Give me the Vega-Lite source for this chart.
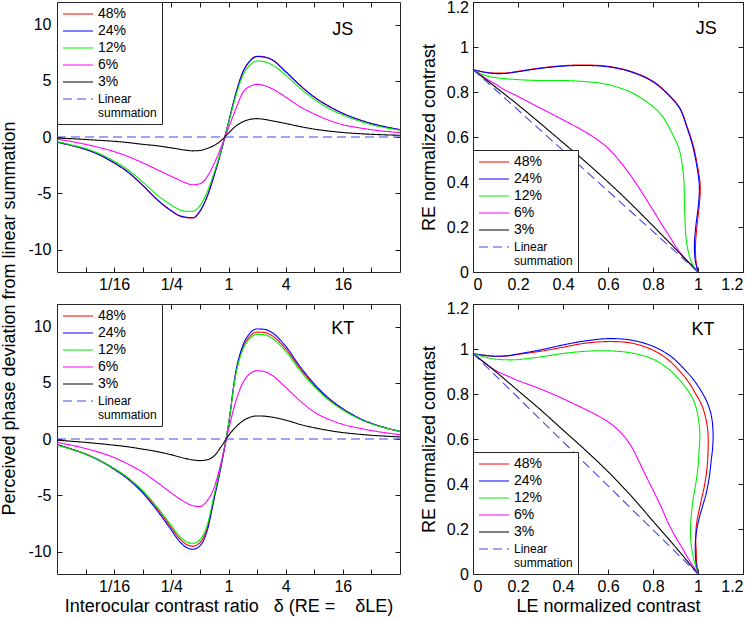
{
"$schema": "https://vega.github.io/schema/vega-lite/v6.json",
"padding": {"left": -1, "top": -2, "right": 0, "bottom": 0},
"autosize": {"type": "pad"},
"config": {
  "font": "Liberation Sans",
  "view": {"stroke": "#262626", "strokeWidth": 1},
  "axis": {"grid": false, "domain": false, "ticks": true, "tickSize": 5, "offset": -5, "tickColor": "#1a1a1a", "tickWidth": 1, "labelFontSize": 16, "labelColor": "#000", "labelFont": "Liberation Sans", "titleFont": "Liberation Sans", "titleFontSize": 18, "titleFontWeight": "normal", "titleColor": "#000"},
  "text": {"font": "Liberation Sans", "color": "#000"}
},
"datasets": {
"lJS": [
{"r":0.015625,"48%":-0.45,"24%":-0.45,"12%":-0.4,"6%":-0.2,"3%":-0.1,"Linear summation":0},
{"r":0.0220971,"48%":-0.75,"24%":-0.75,"12%":-0.7,"6%":-0.4,"3%":-0.15,"Linear summation":0},
{"r":0.03125,"48%":-1.1,"24%":-1.1,"12%":-1.02,"6%":-0.65,"3%":-0.22,"Linear summation":0},
{"r":0.0441942,"48%":-1.6,"24%":-1.6,"12%":-1.5,"6%":-0.95,"3%":-0.3,"Linear summation":0},
{"r":0.0625,"48%":-2.3,"24%":-2.3,"12%":-2.15,"6%":-1.3,"3%":-0.38,"Linear summation":0},
{"r":0.0883883,"48%":-3.15,"24%":-3.15,"12%":-2.95,"6%":-1.75,"3%":-0.5,"Linear summation":0},
{"r":0.125,"48%":-4.3,"24%":-4.3,"12%":-4.0,"6%":-2.3,"3%":-0.65,"Linear summation":0},
{"r":0.1767767,"48%":-5.57,"24%":-5.55,"12%":-5.15,"6%":-2.9,"3%":-0.78,"Linear summation":0},
{"r":0.25,"48%":-6.58,"24%":-6.55,"12%":-6.05,"6%":-3.5,"3%":-0.97,"Linear summation":0},
{"r":0.2973018,"48%":-6.98,"24%":-6.95,"12%":-6.42,"6%":-3.8,"3%":-1.07,"Linear summation":0},
{"r":0.3535534,"48%":-7.16,"24%":-7.12,"12%":-6.6,"6%":-4.08,"3%":-1.17,"Linear summation":0},
{"r":0.4204482,"48%":-7.2,"24%":-7.18,"12%":-6.6,"6%":-4.25,"3%":-1.23,"Linear summation":0},
{"r":0.5,"48%":-6.6,"24%":-6.6,"12%":-6.1,"6%":-4.15,"3%":-1.2,"Linear summation":0},
{"r":0.5946036,"48%":-5.3,"24%":-5.3,"12%":-4.9,"6%":-3.55,"3%":-1.02,"Linear summation":0},
{"r":0.7071068,"48%":-3.4,"24%":-3.4,"12%":-3.15,"6%":-2.35,"3%":-0.75,"Linear summation":0},
{"r":0.8408964,"48%":-1.2,"24%":-1.2,"12%":-1.1,"6%":-0.85,"3%":-0.3,"Linear summation":0},
{"r":1,"48%":1.3,"24%":1.3,"12%":1.2,"6%":0.8,"3%":0.35,"Linear summation":0},
{"r":1.1892071,"48%":3.8,"24%":3.8,"12%":3.6,"6%":2.45,"3%":0.95,"Linear summation":0},
{"r":1.4142136,"48%":5.75,"24%":5.75,"12%":5.45,"6%":3.95,"3%":1.35,"Linear summation":0},
{"r":1.6817928,"48%":6.77,"24%":6.75,"12%":6.4,"6%":4.5,"3%":1.57,"Linear summation":0},
{"r":2,"48%":7.18,"24%":7.15,"12%":6.75,"6%":4.68,"3%":1.63,"Linear summation":0},
{"r":2.3784142,"48%":7.12,"24%":7.1,"12%":6.7,"6%":4.58,"3%":1.57,"Linear summation":0},
{"r":2.8284271,"48%":6.9,"24%":6.9,"12%":6.45,"6%":4.32,"3%":1.45,"Linear summation":0},
{"r":4,"48%":5.82,"24%":5.8,"12%":5.5,"6%":3.55,"3%":1.2,"Linear summation":0},
{"r":5.6568542,"48%":4.6,"24%":4.6,"12%":4.35,"6%":2.7,"3%":0.93,"Linear summation":0},
{"r":8,"48%":3.55,"24%":3.55,"12%":3.35,"6%":2.05,"3%":0.7,"Linear summation":0},
{"r":11.3137085,"48%":2.75,"24%":2.75,"12%":2.55,"6%":1.5,"3%":0.53,"Linear summation":0},
{"r":16,"48%":2.1,"24%":2.1,"12%":1.95,"6%":1.1,"3%":0.4,"Linear summation":0},
{"r":22.627417,"48%":1.6,"24%":1.6,"12%":1.48,"6%":0.85,"3%":0.31,"Linear summation":0},
{"r":32,"48%":1.2,"24%":1.2,"12%":1.1,"6%":0.65,"3%":0.24,"Linear summation":0},
{"r":45.254834,"48%":0.9,"24%":0.9,"12%":0.82,"6%":0.5,"3%":0.19,"Linear summation":0},
{"r":64,"48%":0.65,"24%":0.65,"12%":0.6,"6%":0.4,"3%":0.15,"Linear summation":0}
],
"lKT": [
{"r":0.015625,"48%":-0.5,"24%":-0.5,"12%":-0.55,"6%":-0.3,"3%":-0.1,"Linear summation":0},
{"r":0.0220971,"48%":-0.88,"24%":-0.9,"12%":-0.92,"6%":-0.55,"3%":-0.2,"Linear summation":0},
{"r":0.03125,"48%":-1.32,"24%":-1.35,"12%":-1.35,"6%":-0.85,"3%":-0.3,"Linear summation":0},
{"r":0.0441942,"48%":-1.9,"24%":-1.95,"12%":-1.92,"6%":-1.2,"3%":-0.42,"Linear summation":0},
{"r":0.0625,"48%":-2.63,"24%":-2.7,"12%":-2.62,"6%":-1.65,"3%":-0.55,"Linear summation":0},
{"r":0.0883883,"48%":-3.5,"24%":-3.6,"12%":-3.48,"6%":-2.25,"3%":-0.7,"Linear summation":0},
{"r":0.125,"48%":-4.67,"24%":-4.8,"12%":-4.6,"6%":-2.95,"3%":-0.9,"Linear summation":0},
{"r":0.1767767,"48%":-6.18,"24%":-6.35,"12%":-6.05,"6%":-3.85,"3%":-1.12,"Linear summation":0},
{"r":0.25,"48%":-7.88,"24%":-8.1,"12%":-7.7,"6%":-4.8,"3%":-1.4,"Linear summation":0},
{"r":0.2973018,"48%":-8.75,"24%":-9.0,"12%":-8.55,"6%":-5.25,"3%":-1.57,"Linear summation":0},
{"r":0.3535534,"48%":-9.33,"24%":-9.6,"12%":-9.1,"6%":-5.65,"3%":-1.73,"Linear summation":0},
{"r":0.4204482,"48%":-9.52,"24%":-9.8,"12%":-9.27,"6%":-5.93,"3%":-1.86,"Linear summation":0},
{"r":0.5,"48%":-9.22,"24%":-9.5,"12%":-8.95,"6%":-6.0,"3%":-1.92,"Linear summation":0},
{"r":0.5946036,"48%":-7.95,"24%":-8.2,"12%":-7.7,"6%":-5.5,"3%":-1.85,"Linear summation":0},
{"r":0.7071068,"48%":-5.15,"24%":-5.3,"12%":-4.95,"6%":-4.3,"3%":-1.5,"Linear summation":0},
{"r":0.8408964,"48%":-2.25,"24%":-2.3,"12%":-2.1,"6%":-2.0,"3%":-0.65,"Linear summation":0},
{"r":1,"48%":1.25,"24%":1.3,"12%":1.3,"6%":0.8,"3%":0.3,"Linear summation":0},
{"r":1.1892071,"48%":5.75,"24%":5.9,"12%":5.65,"6%":3.3,"3%":1.05,"Linear summation":0},
{"r":1.4142136,"48%":8.08,"24%":8.3,"12%":7.95,"6%":5.0,"3%":1.6,"Linear summation":0},
{"r":1.6817928,"48%":9.13,"24%":9.4,"12%":8.95,"6%":5.8,"3%":1.93,"Linear summation":0},
{"r":2,"48%":9.5,"24%":9.78,"12%":9.3,"6%":6.07,"3%":2.05,"Linear summation":0},
{"r":2.3784142,"48%":9.47,"24%":9.75,"12%":9.27,"6%":6.0,"3%":2.03,"Linear summation":0},
{"r":2.8284271,"48%":9.22,"24%":9.5,"12%":9.0,"6%":5.7,"3%":1.95,"Linear summation":0},
{"r":4,"48%":8.02,"24%":8.25,"12%":7.8,"6%":4.6,"3%":1.68,"Linear summation":0},
{"r":5.6568542,"48%":6.28,"24%":6.45,"12%":6.1,"6%":3.4,"3%":1.3,"Linear summation":0},
{"r":8,"48%":4.78,"24%":4.9,"12%":4.65,"6%":2.4,"3%":1.0,"Linear summation":0},
{"r":11.3137085,"48%":3.56,"24%":3.65,"12%":3.47,"6%":1.75,"3%":0.76,"Linear summation":0},
{"r":16,"48%":2.64,"24%":2.7,"12%":2.58,"6%":1.3,"3%":0.57,"Linear summation":0},
{"r":22.627417,"48%":1.91,"24%":1.95,"12%":1.88,"6%":1.0,"3%":0.44,"Linear summation":0},
{"r":32,"48%":1.37,"24%":1.4,"12%":1.35,"6%":0.75,"3%":0.33,"Linear summation":0},
{"r":45.254834,"48%":0.98,"24%":1.0,"12%":0.97,"6%":0.55,"3%":0.25,"Linear summation":0},
{"r":64,"48%":0.67,"24%":0.68,"12%":0.67,"6%":0.38,"3%":0.18,"Linear summation":0}
],
"rJS": [
{"s":"48%","i":0,"x":0,"y":0.9},{"s":"48%","i":1,"x":0.05,"y":0.889},{"s":"48%","i":2,"x":0.1,"y":0.884},{"s":"48%","i":3,"x":0.15,"y":0.885},{"s":"48%","i":4,"x":0.2,"y":0.892},{"s":"48%","i":5,"x":0.3,"y":0.907},{"s":"48%","i":6,"x":0.4,"y":0.917},{"s":"48%","i":7,"x":0.5,"y":0.92},{"s":"48%","i":8,"x":0.6,"y":0.914},{"s":"48%","i":9,"x":0.7,"y":0.892},{"s":"48%","i":10,"x":0.8,"y":0.848},{"s":"48%","i":11,"x":0.88,"y":0.778},{"s":"48%","i":12,"x":0.92,"y":0.728},{"s":"48%","i":13,"x":0.952,"y":0.645},{"s":"48%","i":14,"x":0.978,"y":0.565},{"s":"48%","i":15,"x":0.998,"y":0.47},{"s":"48%","i":16,"x":1.01,"y":0.38},{"s":"48%","i":17,"x":1.006,"y":0.3},{"s":"48%","i":18,"x":0.995,"y":0.2},{"s":"48%","i":19,"x":0.989,"y":0.12},{"s":"48%","i":20,"x":0.991,"y":0.05},{"s":"48%","i":21,"x":1,"y":0},
{"s":"24%","i":0,"x":0,"y":0.9},{"s":"24%","i":1,"x":0.05,"y":0.888},{"s":"24%","i":2,"x":0.1,"y":0.882},{"s":"24%","i":3,"x":0.15,"y":0.883},{"s":"24%","i":4,"x":0.2,"y":0.89},{"s":"24%","i":5,"x":0.3,"y":0.905},{"s":"24%","i":6,"x":0.4,"y":0.915},{"s":"24%","i":7,"x":0.5,"y":0.918},{"s":"24%","i":8,"x":0.6,"y":0.912},{"s":"24%","i":9,"x":0.7,"y":0.89},{"s":"24%","i":10,"x":0.8,"y":0.845},{"s":"24%","i":11,"x":0.88,"y":0.775},{"s":"24%","i":12,"x":0.92,"y":0.725},{"s":"24%","i":13,"x":0.95,"y":0.645},{"s":"24%","i":14,"x":0.975,"y":0.565},{"s":"24%","i":15,"x":0.995,"y":0.47},{"s":"24%","i":16,"x":1.006,"y":0.38},{"s":"24%","i":17,"x":1.002,"y":0.3},{"s":"24%","i":18,"x":0.99,"y":0.2},{"s":"24%","i":19,"x":0.984,"y":0.12},{"s":"24%","i":20,"x":0.988,"y":0.05},{"s":"24%","i":21,"x":1,"y":0},
{"s":"12%","i":0,"x":0,"y":0.9},{"s":"12%","i":1,"x":0.05,"y":0.875},{"s":"12%","i":2,"x":0.1,"y":0.864},{"s":"12%","i":3,"x":0.2,"y":0.855},{"s":"12%","i":4,"x":0.3,"y":0.851},{"s":"12%","i":5,"x":0.4,"y":0.851},{"s":"12%","i":6,"x":0.5,"y":0.846},{"s":"12%","i":7,"x":0.6,"y":0.833},{"s":"12%","i":8,"x":0.7,"y":0.8},{"s":"12%","i":9,"x":0.76,"y":0.765},{"s":"12%","i":10,"x":0.8,"y":0.735},{"s":"12%","i":11,"x":0.84,"y":0.695},{"s":"12%","i":12,"x":0.87,"y":0.645},{"s":"12%","i":13,"x":0.9,"y":0.585},{"s":"12%","i":14,"x":0.918,"y":0.54},{"s":"12%","i":15,"x":0.932,"y":0.46},{"s":"12%","i":16,"x":0.938,"y":0.39},{"s":"12%","i":17,"x":0.94,"y":0.3},{"s":"12%","i":18,"x":0.942,"y":0.24},{"s":"12%","i":19,"x":0.948,"y":0.14},{"s":"12%","i":20,"x":0.963,"y":0.067},{"s":"12%","i":21,"x":0.98,"y":0.025},{"s":"12%","i":22,"x":1,"y":0},
{"s":"6%","i":0,"x":0,"y":0.9},{"s":"6%","i":1,"x":0.05,"y":0.865},{"s":"6%","i":2,"x":0.1,"y":0.835},{"s":"6%","i":3,"x":0.14,"y":0.81},{"s":"6%","i":4,"x":0.2,"y":0.78},{"s":"6%","i":5,"x":0.29,"y":0.733},{"s":"6%","i":6,"x":0.37,"y":0.692},{"s":"6%","i":7,"x":0.44,"y":0.655},{"s":"6%","i":8,"x":0.5,"y":0.622},{"s":"6%","i":9,"x":0.55,"y":0.59},{"s":"6%","i":10,"x":0.6,"y":0.55},{"s":"6%","i":11,"x":0.65,"y":0.495},{"s":"6%","i":12,"x":0.7,"y":0.43},{"s":"6%","i":13,"x":0.75,"y":0.355},{"s":"6%","i":14,"x":0.8,"y":0.275},{"s":"6%","i":15,"x":0.84,"y":0.21},{"s":"6%","i":16,"x":0.88,"y":0.148},{"s":"6%","i":17,"x":0.91,"y":0.1},{"s":"6%","i":18,"x":0.95,"y":0.052},{"s":"6%","i":19,"x":1,"y":0},
{"s":"3%","i":0,"x":0,"y":0.9},{"s":"3%","i":1,"x":0.1,"y":0.822},{"s":"3%","i":2,"x":0.2,"y":0.743},{"s":"3%","i":3,"x":0.3,"y":0.66},{"s":"3%","i":4,"x":0.4,"y":0.575},{"s":"3%","i":5,"x":0.5,"y":0.49},{"s":"3%","i":6,"x":0.6,"y":0.4},{"s":"3%","i":7,"x":0.7,"y":0.305},{"s":"3%","i":8,"x":0.8,"y":0.205},{"s":"3%","i":9,"x":0.9,"y":0.103},{"s":"3%","i":10,"x":1,"y":0},
{"s":"Linear summation","i":0,"x":0,"y":0.9},{"s":"Linear summation","i":1,"x":1,"y":0}
],
"rKT": [
{"s":"48%","i":0,"x":0,"y":0.98},{"s":"48%","i":1,"x":0.05,"y":0.972},{"s":"48%","i":2,"x":0.1,"y":0.968},{"s":"48%","i":3,"x":0.15,"y":0.969},{"s":"48%","i":4,"x":0.2,"y":0.976},{"s":"48%","i":5,"x":0.3,"y":0.99},{"s":"48%","i":6,"x":0.4,"y":1.008},{"s":"48%","i":7,"x":0.5,"y":1.026},{"s":"48%","i":8,"x":0.6,"y":1.033},{"s":"48%","i":9,"x":0.7,"y":1.027},{"s":"48%","i":10,"x":0.8,"y":0.995},{"s":"48%","i":11,"x":0.87,"y":0.95},{"s":"48%","i":12,"x":0.92,"y":0.9},{"s":"48%","i":13,"x":0.96,"y":0.85},{"s":"48%","i":14,"x":0.99,"y":0.8},{"s":"48%","i":15,"x":1.017,"y":0.75},{"s":"48%","i":16,"x":1.035,"y":0.69},{"s":"48%","i":17,"x":1.044,"y":0.63},{"s":"48%","i":18,"x":1.045,"y":0.56},{"s":"48%","i":19,"x":1.041,"y":0.48},{"s":"48%","i":20,"x":1.03,"y":0.4},{"s":"48%","i":21,"x":1.015,"y":0.33},{"s":"48%","i":22,"x":1.0,"y":0.26},{"s":"48%","i":23,"x":0.992,"y":0.21},{"s":"48%","i":24,"x":0.99,"y":0.15},{"s":"48%","i":25,"x":0.992,"y":0.107},{"s":"48%","i":26,"x":0.994,"y":0.05},{"s":"48%","i":27,"x":1,"y":0},
{"s":"24%","i":0,"x":0,"y":0.98},{"s":"24%","i":1,"x":0.05,"y":0.972},{"s":"24%","i":2,"x":0.1,"y":0.968},{"s":"24%","i":3,"x":0.15,"y":0.97},{"s":"24%","i":4,"x":0.2,"y":0.978},{"s":"24%","i":5,"x":0.3,"y":0.996},{"s":"24%","i":6,"x":0.4,"y":1.018},{"s":"24%","i":7,"x":0.5,"y":1.036},{"s":"24%","i":8,"x":0.6,"y":1.046},{"s":"24%","i":9,"x":0.7,"y":1.04},{"s":"24%","i":10,"x":0.8,"y":1.012},{"s":"24%","i":11,"x":0.88,"y":0.967},{"s":"24%","i":12,"x":0.93,"y":0.92},{"s":"24%","i":13,"x":0.975,"y":0.87},{"s":"24%","i":14,"x":1.01,"y":0.82},{"s":"24%","i":15,"x":1.042,"y":0.76},{"s":"24%","i":16,"x":1.06,"y":0.7},{"s":"24%","i":17,"x":1.067,"y":0.626},{"s":"24%","i":18,"x":1.065,"y":0.56},{"s":"24%","i":19,"x":1.059,"y":0.507},{"s":"24%","i":20,"x":1.05,"y":0.43},{"s":"24%","i":21,"x":1.037,"y":0.36},{"s":"24%","i":22,"x":1.02,"y":0.3},{"s":"24%","i":23,"x":1.007,"y":0.255},{"s":"24%","i":24,"x":0.995,"y":0.2},{"s":"24%","i":25,"x":0.989,"y":0.15},{"s":"24%","i":26,"x":0.988,"y":0.1},{"s":"24%","i":27,"x":0.991,"y":0.05},{"s":"24%","i":28,"x":1,"y":0},
{"s":"12%","i":0,"x":0,"y":0.98},{"s":"12%","i":1,"x":0.05,"y":0.965},{"s":"12%","i":2,"x":0.1,"y":0.955},{"s":"12%","i":3,"x":0.15,"y":0.952},{"s":"12%","i":4,"x":0.2,"y":0.953},{"s":"12%","i":5,"x":0.3,"y":0.965},{"s":"12%","i":6,"x":0.4,"y":0.98},{"s":"12%","i":7,"x":0.5,"y":0.99},{"s":"12%","i":8,"x":0.6,"y":0.992},{"s":"12%","i":9,"x":0.7,"y":0.983},{"s":"12%","i":10,"x":0.8,"y":0.955},{"s":"12%","i":11,"x":0.87,"y":0.91},{"s":"12%","i":12,"x":0.92,"y":0.86},{"s":"12%","i":13,"x":0.955,"y":0.815},{"s":"12%","i":14,"x":0.985,"y":0.76},{"s":"12%","i":15,"x":1.0,"y":0.7},{"s":"12%","i":16,"x":1.008,"y":0.626},{"s":"12%","i":17,"x":1.005,"y":0.55},{"s":"12%","i":18,"x":1.0,"y":0.478},{"s":"12%","i":19,"x":0.99,"y":0.4},{"s":"12%","i":20,"x":0.978,"y":0.33},{"s":"12%","i":21,"x":0.97,"y":0.26},{"s":"12%","i":22,"x":0.967,"y":0.21},{"s":"12%","i":23,"x":0.968,"y":0.15},{"s":"12%","i":24,"x":0.973,"y":0.107},{"s":"12%","i":25,"x":0.985,"y":0.05},{"s":"12%","i":26,"x":1,"y":0},
{"s":"6%","i":0,"x":0,"y":0.98},{"s":"6%","i":1,"x":0.05,"y":0.94},{"s":"6%","i":2,"x":0.1,"y":0.905},{"s":"6%","i":3,"x":0.14,"y":0.886},{"s":"6%","i":4,"x":0.2,"y":0.86},{"s":"6%","i":5,"x":0.29,"y":0.826},{"s":"6%","i":6,"x":0.37,"y":0.793},{"s":"6%","i":7,"x":0.44,"y":0.76},{"s":"6%","i":8,"x":0.51,"y":0.727},{"s":"6%","i":9,"x":0.57,"y":0.695},{"s":"6%","i":10,"x":0.62,"y":0.662},{"s":"6%","i":11,"x":0.66,"y":0.625},{"s":"6%","i":12,"x":0.7,"y":0.573},{"s":"6%","i":13,"x":0.733,"y":0.51},{"s":"6%","i":14,"x":0.77,"y":0.433},{"s":"6%","i":15,"x":0.807,"y":0.359},{"s":"6%","i":16,"x":0.84,"y":0.29},{"s":"6%","i":17,"x":0.867,"y":0.228},{"s":"6%","i":18,"x":0.9,"y":0.165},{"s":"6%","i":19,"x":0.926,"y":0.122},{"s":"6%","i":20,"x":0.95,"y":0.08},{"s":"6%","i":21,"x":0.97,"y":0.048},{"s":"6%","i":22,"x":1,"y":0},
{"s":"3%","i":0,"x":0,"y":0.98},{"s":"3%","i":1,"x":0.1,"y":0.9},{"s":"3%","i":2,"x":0.2,"y":0.815},{"s":"3%","i":3,"x":0.3,"y":0.73},{"s":"3%","i":4,"x":0.4,"y":0.64},{"s":"3%","i":5,"x":0.5,"y":0.55},{"s":"3%","i":6,"x":0.6,"y":0.455},{"s":"3%","i":7,"x":0.7,"y":0.35},{"s":"3%","i":8,"x":0.8,"y":0.235},{"s":"3%","i":9,"x":0.9,"y":0.12},{"s":"3%","i":10,"x":1,"y":0},
{"s":"Linear summation","i":0,"x":0,"y":0.98},{"s":"Linear summation","i":1,"x":1,"y":0}
]
},
"columns": 2,
"spacing": {"row": 32, "column": 73},
"bounds": "flush",
"resolve": {"scale": {"color": "independent", "strokeDash": "independent"}, "legend": {"color": "independent", "strokeDash": "independent"}},
"concat": [
{
 "width": 343, "height": 270,
 "layer": [
  {
   "data": {"name": "lJS"},
   "transform": [{"fold": ["48%","24%","12%","6%","3%","Linear summation"], "as": ["series","v"]}],
   "mark": {"type": "line", "interpolate": "monotone", "strokeWidth": 1.1},
   "encoding": {
    "x": {"field": "r", "type": "quantitative", "scale": {"type": "log", "base": 2, "domain": [0.015625, 64], "nice": false}, "axis": {"values": [0.03125,0.0625,0.125,0.25,0.5,1,2,4,8,16,32], "labelExpr": "datum.value == 0.0625 ? '1/16' : datum.value == 0.25 ? '1/4' : datum.value == 1 ? '1' : datum.value == 4 ? '4' : datum.value == 16 ? '16' : ''", "labelPadding": 4, "title": null}},
    "y": {"field": "v", "type": "quantitative", "scale": {"domain": [-12, 12], "nice": false, "zero": false}, "axis": {"values": [-10,-5,0,5,10], "labelExpr": "replace(datum.label, '\u2212', '-')", "labelPadding": 6, "title": "Perceived phase deviation from linear summation", "titleX": -44, "titleY": 316}},
    "color": {"field": "series", "type": "nominal", "scale": {"domain": ["48%","24%","12%","6%","3%","Linear summation"], "range": ["#ff0000","#0000ff","#00f000","#ff00ff","#000000","#4646e6"]},
      "legend": {"title": null, "orient": "top-left", "offset": 0, "fillColor": "white", "strokeColor": "#262626", "padding": 5, "symbolType": "M-1,0H4", "symbolSize": 144, "symbolStrokeWidth": 1.2, "labelFontSize": 14, "labelOffset": 22, "rowPadding": 3, "labelExpr": "datum.value == 'Linear summation' ? ['Linear', 'summation'] : datum.label", "encode": {"labels": {"update": {"fontSize": {"signal": "datum.value == 'Linear summation' ? 12 : 14"}}}}}},
    "strokeDash": {"field": "series", "type": "nominal", "scale": {"domain": ["48%","24%","12%","6%","3%","Linear summation"], "range": [[1,0],[1,0],[1,0],[1,0],[1,0],[9,5]]},
      "legend": {"title": null, "orient": "top-left", "offset": 0, "fillColor": "white", "strokeColor": "#262626", "padding": 5, "symbolType": "M-1,0H4", "symbolSize": 144, "symbolStrokeWidth": 1.2, "labelFontSize": 14, "labelOffset": 22, "rowPadding": 3, "labelExpr": "datum.value == 'Linear summation' ? ['Linear', 'summation'] : datum.label", "encode": {"labels": {"update": {"fontSize": {"signal": "datum.value == 'Linear summation' ? 12 : 14"}}}}}}
   }
  },
  {
   "data": {"values": [{}]},
   "mark": {"type": "text", "text": "JS", "fontSize": 18},
   "encoding": {
    "x": {"datum": 16, "type": "quantitative", "axis": {"orient": "top", "values": [0.03125,0.0625,0.125,0.25,0.5,1,2,4,8,16,32], "labels": false, "title": null}},
    "y": {"datum": 9.5, "type": "quantitative", "axis": {"orient": "right", "values": [-10,-5,0,5,10], "labels": false, "title": null}}
   }
  }
 ],
 "resolve": {"axis": {"x": "independent", "y": "independent"}}
},
{
 "width": 270, "height": 270,
 "layer": [
  {
   "data": {"name": "rJS"},
   "mark": {"type": "line", "interpolate": "catmull-rom", "strokeWidth": 1.1},
   "encoding": {
    "x": {"field": "x", "type": "quantitative", "scale": {"domain": [0, 1.2], "nice": false}, "axis": {"values": [0,0.2,0.4,0.6,0.8,1,1.2], "format": "~g", "labelPadding": 4, "title": null}},
    "y": {"field": "y", "type": "quantitative", "scale": {"domain": [0, 1.2], "nice": false}, "axis": {"values": [0,0.2,0.4,0.6,0.8,1,1.2], "format": "~g", "labelPadding": 4.5, "labelOffset": {"condition": {"test": "datum.value == 1.2", "value": 5}, "value": 0}, "title": "RE normalized contrast", "titlePadding": 8}},
    "order": {"field": "i", "type": "quantitative"},
    "color": {"field": "s", "type": "nominal", "scale": {"domain": ["48%","24%","12%","6%","3%","Linear summation"], "range": ["#ff0000","#0000ff","#00f000","#ff00ff","#000000","#4646e6"]},
      "legend": {"title": null, "orient": "bottom-left", "offset": 0, "fillColor": "white", "strokeColor": "#262626", "padding": 5, "symbolType": "M-1,0H4", "symbolSize": 144, "symbolStrokeWidth": 1.2, "labelFontSize": 14, "labelOffset": 22, "rowPadding": 3, "labelExpr": "datum.value == 'Linear summation' ? ['Linear', 'summation'] : datum.label", "encode": {"labels": {"update": {"fontSize": {"signal": "datum.value == 'Linear summation' ? 12 : 14"}}}}}},
    "strokeDash": {"field": "s", "type": "nominal", "scale": {"domain": ["48%","24%","12%","6%","3%","Linear summation"], "range": [[1,0],[1,0],[1,0],[1,0],[1,0],[9,5]]},
      "legend": {"title": null, "orient": "bottom-left", "offset": 0, "fillColor": "white", "strokeColor": "#262626", "padding": 5, "symbolType": "M-1,0H4", "symbolSize": 144, "symbolStrokeWidth": 1.2, "labelFontSize": 14, "labelOffset": 22, "rowPadding": 3, "labelExpr": "datum.value == 'Linear summation' ? ['Linear', 'summation'] : datum.label", "encode": {"labels": {"update": {"fontSize": {"signal": "datum.value == 'Linear summation' ? 12 : 14"}}}}}}
   }
  },
  {
   "data": {"values": [{}]},
   "mark": {"type": "text", "text": "JS", "fontSize": 18},
   "encoding": {
    "x": {"datum": 1.037, "type": "quantitative", "axis": {"orient": "top", "values": [0,0.2,0.4,0.6,0.8,1,1.2], "labels": false, "title": null}},
    "y": {"datum": 1.082, "type": "quantitative", "axis": {"orient": "right", "values": [0,0.2,0.4,0.6,0.8,1,1.2], "labels": false, "title": null}}
   }
  }
 ],
 "resolve": {"axis": {"x": "independent", "y": "independent"}}
},
{
 "width": 343, "height": 270,
 "layer": [
  {
   "data": {"name": "lKT"},
   "transform": [{"fold": ["48%","24%","12%","6%","3%","Linear summation"], "as": ["series","v"]}],
   "mark": {"type": "line", "interpolate": "monotone", "strokeWidth": 1.1},
   "encoding": {
    "x": {"field": "r", "type": "quantitative", "scale": {"type": "log", "base": 2, "domain": [0.015625, 64], "nice": false}, "axis": {"values": [0.03125,0.0625,0.125,0.25,0.5,1,2,4,8,16,32], "labelExpr": "datum.value == 0.0625 ? '1/16' : datum.value == 0.25 ? '1/4' : datum.value == 1 ? '1' : datum.value == 4 ? '4' : datum.value == 16 ? '16' : ''", "labelPadding": 4, "title": "Interocular contrast ratio\u00a0\u00a0 δ (RE =\u00a0\u00a0\u00a0 δLE)", "titlePadding": 3}},
    "y": {"field": "v", "type": "quantitative", "scale": {"domain": [-12, 12], "nice": false, "zero": false}, "axis": {"values": [-10,-5,0,5,10], "labelExpr": "replace(datum.label, '\u2212', '-')", "labelPadding": 6, "title": null}},
    "color": {"field": "series", "type": "nominal", "scale": {"domain": ["48%","24%","12%","6%","3%","Linear summation"], "range": ["#ff0000","#0000ff","#00f000","#ff00ff","#000000","#4646e6"]},
      "legend": {"title": null, "orient": "top-left", "offset": 0, "fillColor": "white", "strokeColor": "#262626", "padding": 5, "symbolType": "M-1,0H4", "symbolSize": 144, "symbolStrokeWidth": 1.2, "labelFontSize": 14, "labelOffset": 22, "rowPadding": 3, "labelExpr": "datum.value == 'Linear summation' ? ['Linear', 'summation'] : datum.label", "encode": {"labels": {"update": {"fontSize": {"signal": "datum.value == 'Linear summation' ? 12 : 14"}}}}}},
    "strokeDash": {"field": "series", "type": "nominal", "scale": {"domain": ["48%","24%","12%","6%","3%","Linear summation"], "range": [[1,0],[1,0],[1,0],[1,0],[1,0],[9,5]]},
      "legend": {"title": null, "orient": "top-left", "offset": 0, "fillColor": "white", "strokeColor": "#262626", "padding": 5, "symbolType": "M-1,0H4", "symbolSize": 144, "symbolStrokeWidth": 1.2, "labelFontSize": 14, "labelOffset": 22, "rowPadding": 3, "labelExpr": "datum.value == 'Linear summation' ? ['Linear', 'summation'] : datum.label", "encode": {"labels": {"update": {"fontSize": {"signal": "datum.value == 'Linear summation' ? 12 : 14"}}}}}}
   }
  },
  {
   "data": {"values": [{}]},
   "mark": {"type": "text", "text": "KT", "fontSize": 18},
   "encoding": {
    "x": {"datum": 16, "type": "quantitative", "axis": {"orient": "top", "values": [0.03125,0.0625,0.125,0.25,0.5,1,2,4,8,16,32], "labels": false, "title": null}},
    "y": {"datum": 9.8, "type": "quantitative", "axis": {"orient": "right", "values": [-10,-5,0,5,10], "labels": false, "title": null}}
   }
  }
 ],
 "resolve": {"axis": {"x": "independent", "y": "independent"}}
},
{
 "width": 270, "height": 270,
 "layer": [
  {
   "data": {"name": "rKT"},
   "mark": {"type": "line", "interpolate": "catmull-rom", "strokeWidth": 1.1},
   "encoding": {
    "x": {"field": "x", "type": "quantitative", "scale": {"domain": [0, 1.2], "nice": false}, "axis": {"values": [0,0.2,0.4,0.6,0.8,1,1.2], "format": "~g", "labelPadding": 4, "title": "LE normalized contrast", "titlePadding": 3}},
    "y": {"field": "y", "type": "quantitative", "scale": {"domain": [0, 1.2], "nice": false}, "axis": {"values": [0,0.2,0.4,0.6,0.8,1,1.2], "format": "~g", "labelPadding": 4.5, "labelOffset": {"condition": {"test": "datum.value == 1.2", "value": 4}, "value": 0}, "title": "RE normalized contrast", "titlePadding": 8}},
    "order": {"field": "i", "type": "quantitative"},
    "color": {"field": "s", "type": "nominal", "scale": {"domain": ["48%","24%","12%","6%","3%","Linear summation"], "range": ["#ff0000","#0000ff","#00f000","#ff00ff","#000000","#4646e6"]},
      "legend": {"title": null, "orient": "bottom-left", "offset": 0, "fillColor": "white", "strokeColor": "#262626", "padding": 5, "symbolType": "M-1,0H4", "symbolSize": 144, "symbolStrokeWidth": 1.2, "labelFontSize": 14, "labelOffset": 22, "rowPadding": 3, "labelExpr": "datum.value == 'Linear summation' ? ['Linear', 'summation'] : datum.label", "encode": {"labels": {"update": {"fontSize": {"signal": "datum.value == 'Linear summation' ? 12 : 14"}}}}}},
    "strokeDash": {"field": "s", "type": "nominal", "scale": {"domain": ["48%","24%","12%","6%","3%","Linear summation"], "range": [[1,0],[1,0],[1,0],[1,0],[1,0],[9,5]]},
      "legend": {"title": null, "orient": "bottom-left", "offset": 0, "fillColor": "white", "strokeColor": "#262626", "padding": 5, "symbolType": "M-1,0H4", "symbolSize": 144, "symbolStrokeWidth": 1.2, "labelFontSize": 14, "labelOffset": 22, "rowPadding": 3, "labelExpr": "datum.value == 'Linear summation' ? ['Linear', 'summation'] : datum.label", "encode": {"labels": {"update": {"fontSize": {"signal": "datum.value == 'Linear summation' ? 12 : 14"}}}}}}
   }
  },
  {
   "data": {"values": [{}]},
   "mark": {"type": "text", "text": "KT", "fontSize": 18},
   "encoding": {
    "x": {"datum": 1.022, "type": "quantitative", "axis": {"orient": "top", "values": [0,0.2,0.4,0.6,0.8,1,1.2], "labels": false, "title": null}},
    "y": {"datum": 1.086, "type": "quantitative", "axis": {"orient": "right", "values": [0,0.2,0.4,0.6,0.8,1,1.2], "labels": false, "title": null}}
   }
  }
 ],
 "resolve": {"axis": {"x": "independent", "y": "independent"}}
}
]
}
